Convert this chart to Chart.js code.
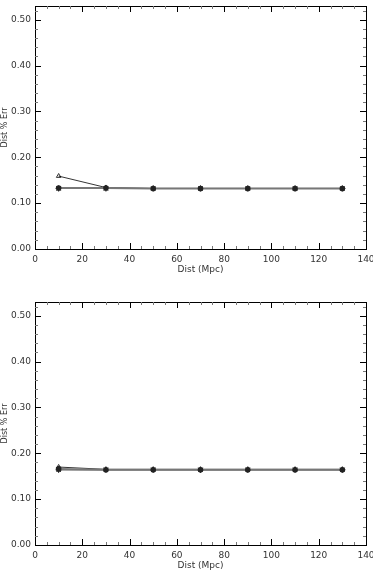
<!DOCTYPE html>
<html>
<head>
<meta charset="utf-8">
<script src="https://cdn.jsdelivr.net/npm/chart.js@4/dist/chart.umd.min.js"></script>
<style>
  html, body { margin: 0; padding: 0; background: #fff; overflow: hidden; }
  .panel { position: absolute; left: 0; width: 373px; height: 285px; }
  #top { top: 0; }
  #bottom { top: 296px; }
</style>
</head>
<body>
<div class="panel" id="top"><canvas id="chartTop"></canvas></div>
<div class="panel" id="bottom"><canvas id="chartBottom"></canvas></div>
<script>
// Data
const distances = [10, 30, 50, 70, 90, 110, 130];
const xTicks = [0, 20, 40, 60, 80, 100, 120, 140];
const yTicks = [0.0, 0.1, 0.2, 0.3, 0.4, 0.5];

const topTriangle = [0.159, 0.134, 0.132, 0.132, 0.132, 0.132, 0.132];
const topGray = [0.133, 0.133, 0.132, 0.132, 0.132, 0.132, 0.132];
const topStar = [0.132, 0.132, 0.132, 0.132, 0.132, 0.132, 0.132];

const bottomTriangle = [0.170, 0.165, 0.165, 0.165, 0.165, 0.165, 0.165];
const bottomGray = [0.166, 0.164, 0.164, 0.164, 0.164, 0.164, 0.164];
const bottomStar = [0.164, 0.164, 0.164, 0.164, 0.164, 0.164, 0.164];

const FONT = { family: "'DejaVu Sans', sans-serif", size: 9 };

// Draws the frame and inward ticks on all four sides
const framePlugin = {
  id: "frame",
  afterDraw(chart) {
    const { ctx, chartArea: a, scales } = chart;
    const x = scales.x, y = scales.y;
    ctx.save();
    ctx.lineWidth = 1;
    ctx.strokeStyle = "#000";
    ctx.strokeRect(Math.round(a.left) + 0.5, Math.round(a.top) + 0.5,
      Math.round(a.right - a.left), Math.round(a.bottom - a.top));

    const line = (x1, y1, x2, y2, color) => {
      ctx.strokeStyle = color;
      ctx.beginPath();
      ctx.moveTo(x1, y1);
      ctx.lineTo(x2, y2);
      ctx.stroke();
    };

    for (let v = 0; v <= 140; v += 5) {
      const px = Math.round(x.getPixelForValue(v)) + 0.5;
      const major = v % 20 === 0;
      const len = major ? 6 : 3;
      const c = major ? "#000" : "#777";
      line(px, a.bottom, px, a.bottom - len, c);
      line(px, a.top, px, a.top + len, c);
    }
    for (let i = 0; i <= 26; i++) {
      const v = i * 0.02;
      const py = Math.round(y.getPixelForValue(v)) + 0.5;
      const major = i % 5 === 0;
      const len = major ? 6 : 3;
      const c = major ? "#000" : "#777";
      line(a.left, py, a.left + len, py, c);
      line(a.right, py, a.right - len, py, c);
    }
    ctx.restore();
  },
};

function noPad(s) {
  s.paddingTop = 0;
  s.paddingBottom = 0;
  s.paddingLeft = 0;
  s.paddingRight = 0;
}

function makeChart(id, tri, gray, star) {
  return new Chart(document.getElementById(id), {
    type: "line",
    data: {
      datasets: [
        {
          data: distances.map((d, i) => ({ x: d, y: gray[i] })),
          borderColor: "#777",
          borderWidth: 2,
          pointStyle: "circle",
          pointRadius: 1.8,
          pointBackgroundColor: "#222",
          pointBorderColor: "#222",
        },
        {
          data: distances.map((d, i) => ({ x: d, y: star[i] })),
          borderColor: "#000",
          borderWidth: 1,
          pointStyle: "star",
          pointRadius: 3,
          pointBorderColor: "#000",
          pointBorderWidth: 1,
        },
        {
          data: distances.map((d, i) => ({ x: d, y: tri[i] })),
          borderColor: "#000",
          borderWidth: 0.8,
          pointStyle: "triangle",
          pointRadius: 2.6,
          pointBackgroundColor: "rgba(0,0,0,0)",
          pointBorderColor: "#000",
          pointBorderWidth: 0.8,
        },
      ],
    },
    options: {
      responsive: true,
      maintainAspectRatio: false,
      animation: false,
      layout: { padding: { top: 0, right: 7, left: 0, bottom: 0 } },
      plugins: { legend: { display: false }, tooltip: { enabled: false } },
      scales: {
        x: {
          type: "linear",
          min: 0,
          max: 140,
          afterBuildTicks: (s) => { s.ticks = xTicks.map((v) => ({ value: v })); },
          afterFit: (s) => { s.height = 36; noPad(s); },
          grid: { display: false, drawTicks: false },
          border: { display: false },
          ticks: { font: FONT, color: "#333", padding: 5, maxRotation: 0 },
          title: {
            display: true,
            text: "Dist (Mpc)",
            font: FONT,
            color: "#333",
            padding: { top: 0, bottom: 10 },
          },
        },
        y: {
          type: "linear",
          min: 0,
          max: 0.53,
          afterBuildTicks: (s) => { s.ticks = yTicks.map((v) => ({ value: v })); },
          afterFit: (s) => { s.width = 35; noPad(s); },
          grid: { display: false, drawTicks: false },
          border: { display: false },
          ticks: {
            font: FONT,
            color: "#333",
            padding: 4,
            callback: (v) => Number(v).toFixed(2),
          },
          title: {
            display: true,
            text: "Dist % Err",
            font: { family: FONT.family, size: 8 },
            color: "#333",
            padding: 0,
          },
        },
      },
    },
    plugins: [framePlugin],
  });
}

makeChart("chartTop", topTriangle, topGray, topStar);
makeChart("chartBottom", bottomTriangle, bottomGray, bottomStar);
</script>
</body>
</html>
